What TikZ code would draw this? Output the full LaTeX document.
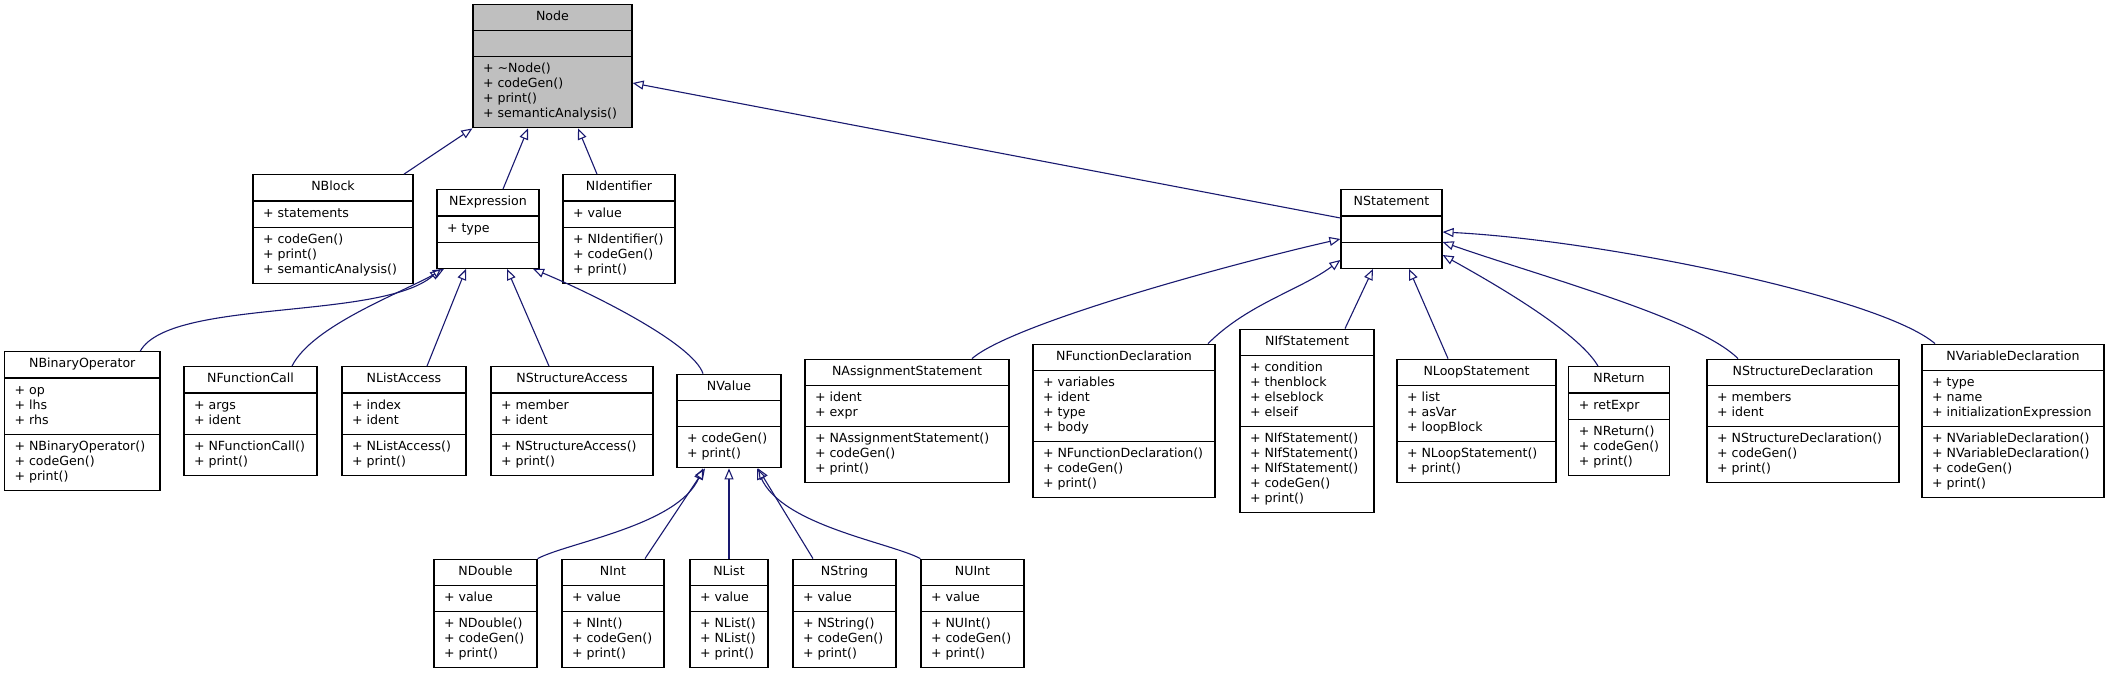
\documentclass[tikz,border=0pt]{standalone}
\usepackage{fontspec}
\setmainfont{DejaVu Sans}
\usetikzlibrary{shapes.multipart,arrows.meta}

\definecolor{edgeblue}{HTML}{191970}
\newcommand{\clsfont}{\fontsize{12.6}{15}\selectfont}
\newcommand{\members}[1]{\begin{tabular}{@{}l@{}}#1\end{tabular}}

\tikzstyle{cls} = [draw, line width=1.2pt, fill=white, rectangle split,
    rectangle split parts=3, rectangle split part align={center,left,left},
    inner xsep=10pt, inner ysep=5pt, font=\clsfont, anchor=center]
\tikzstyle{inherit} = [draw=edgeblue, line width=1.1pt,
    -{Triangle[open, length=11pt, width=9pt]}]

\begin{document}
\begin{tikzpicture}[x=1pt,y=-1pt]
    \fill [white] (0,0) rectangle (2109,672);
    \useasboundingbox (0,0) rectangle (2109,672);

    % base class
    \node (Node) [cls, fill=black!25, minimum width=159pt] at (552.5,66)
        {\strut Node\nodepart{two}\strut\nodepart{three}\members{+ \textasciitilde Node()\\+ codeGen()\\+ print()\\+ semanticAnalysis()}};

    % second row
    \node (NBlock) [cls, minimum width=160pt] at (333,229)
        {\strut NBlock\nodepart{two}\members{+ statements}\nodepart{three}\members{+ codeGen()\\+ print()\\+ semanticAnalysis()}};
    \node (NExpression) [cls, minimum width=102pt] at (488,229)
        {\strut NExpression\nodepart{two}\members{+ type}\nodepart{three}\strut};
    \node (NIdentifier) [cls, minimum width=112pt] at (619,229)
        {\strut NIdentifier\nodepart{two}\members{+ value}\nodepart{three}\members{+ NIdentifier()\\+ codeGen()\\+ print()}};
    \node (NStatement) [cls, minimum width=101pt] at (1391.5,229)
        {\strut NStatement\nodepart{two}\strut\nodepart{three}\strut};

    % third row
    \node (NBinaryOperator) [cls, minimum width=155.5pt] at (82.25,421)
        {\strut NBinaryOperator\nodepart{two}\members{+ op\\+ lhs\\+ rhs}\nodepart{three}\members{+ NBinaryOperator()\\+ codeGen()\\+ print()}};
    \node (NFunctionCall) [cls, minimum width=133pt] at (250.5,421)
        {\strut NFunctionCall\nodepart{two}\members{+ args\\+ ident}\nodepart{three}\members{+ NFunctionCall()\\+ print()}};
    \node (NListAccess) [cls, minimum width=124pt] at (404,421)
        {\strut NListAccess\nodepart{two}\members{+ index\\+ ident}\nodepart{three}\members{+ NListAccess()\\+ print()}};
    \node (NStructureAccess) [cls, minimum width=162pt] at (572,421)
        {\strut NStructureAccess\nodepart{two}\members{+ member\\+ ident}\nodepart{three}\members{+ NStructureAccess()\\+ print()}};
    \node (NValue) [cls, minimum width=104pt] at (729,421)
        {\strut NValue\nodepart{two}\strut\nodepart{three}\members{+ codeGen()\\+ print()}};
    \node (NAssignmentStatement) [cls, minimum width=204pt] at (907,421)
        {\strut NAssignmentStatement\nodepart{two}\members{+ ident\\+ expr}\nodepart{three}\members{+ NAssignmentStatement()\\+ codeGen()\\+ print()}};
    \node (NFunctionDeclaration) [cls, minimum width=182pt] at (1124,421)
        {\strut NFunctionDeclaration\nodepart{two}\members{+ variables\\+ ident\\+ type\\+ body}\nodepart{three}\members{+ NFunctionDeclaration()\\+ codeGen()\\+ print()}};
    \node (NIfStatement) [cls, minimum width=134pt] at (1307,421)
        {\strut NIfStatement\nodepart{two}\members{+ condition\\+ thenblock\\+ elseblock\\+ elseif}\nodepart{three}\members{+ NIfStatement()\\+ NIfStatement()\\+ NIfStatement()\\+ codeGen()\\+ print()}};
    \node (NLoopStatement) [cls, minimum width=159pt] at (1476.5,421)
        {\strut NLoopStatement\nodepart{two}\members{+ list\\+ asVar\\+ loopBlock}\nodepart{three}\members{+ NLoopStatement()\\+ print()}};
    \node (NReturn) [cls, minimum width=80pt] at (1619,421)
        {\strut NReturn\nodepart{two}\members{+ retExpr}\nodepart{three}\members{+ NReturn()\\+ codeGen()\\+ print()}};
    \node (NStructureDeclaration) [cls, minimum width=192pt] at (1803,421)
        {\strut NStructureDeclaration\nodepart{two}\members{+ members\\+ ident}\nodepart{three}\members{+ NStructureDeclaration()\\+ codeGen()\\+ print()}};
    \node (NVariableDeclaration) [cls, minimum width=182pt] at (2013,421)
        {\strut NVariableDeclaration\nodepart{two}\members{+ type\\+ name\\+ initializationExpression}\nodepart{three}\members{+ NVariableDeclaration()\\+ NVariableDeclaration()\\+ codeGen()\\+ print()}};

    % fourth row
    \node (NDouble) [cls, minimum width=103pt] at (485.5,613.5)
        {\strut NDouble\nodepart{two}\members{+ value}\nodepart{three}\members{+ NDouble()\\+ codeGen()\\+ print()}};
    \node (NInt) [cls, minimum width=102pt] at (613,613.5)
        {\strut NInt\nodepart{two}\members{+ value}\nodepart{three}\members{+ NInt()\\+ codeGen()\\+ print()}};
    \node (NList) [cls, minimum width=78pt] at (729,613.5)
        {\strut NList\nodepart{two}\members{+ value}\nodepart{three}\members{+ NList()\\+ NList()\\+ print()}};
    \node (NString) [cls, minimum width=103pt] at (844.5,613.5)
        {\strut NString\nodepart{two}\members{+ value}\nodepart{three}\members{+ NString()\\+ codeGen()\\+ print()}};
    \node (NUInt) [cls, minimum width=103pt] at (972.5,613.5)
        {\strut NUInt\nodepart{two}\members{+ value}\nodepart{three}\members{+ NUInt()\\+ codeGen()\\+ print()}};

    % inheritance to Node
    \draw [inherit] ([xshift=71pt]NBlock.north) -- (Node.south west);
    \draw [inherit] ([xshift=15pt]NExpression.north) -- ([xshift=-24.5pt]Node.south);
    \draw [inherit] ([xshift=-22pt]NIdentifier.north) -- ([xshift=25.5pt]Node.south);
    \draw [inherit] ([yshift=11pt]NStatement.west) -- ([yshift=-17pt]Node.east);

    % inheritance to NExpression
    \draw [inherit] ([xshift=58pt]NBinaryOperator.north) .. controls +(30,-53) and +(-61,52) .. ([xshift=-47pt]NExpression.south);
    \draw [inherit] ([xshift=41.5pt]NFunctionCall.north) .. controls +(20,-40) and +(-45,25) .. ([xshift=-44pt]NExpression.south);
    \draw [inherit] ([xshift=23pt]NListAccess.north) -- ([xshift=-22pt]NExpression.south);
    \draw [inherit] ([xshift=-23pt]NStructureAccess.north) -- ([xshift=19pt]NExpression.south);
    \draw [inherit] ([xshift=-26pt]NValue.north) .. controls +(-10,-30) and +(60,25) .. ([xshift=45pt]NExpression.south);

    % inheritance to NValue
    \draw [inherit] (NDouble.north east) .. controls +(30,-16) and +(-25,57) .. ([xshift=-26pt]NValue.south);
    \draw [inherit] ([xshift=32pt]NInt.north) -- ([xshift=-24pt]NValue.south);
    \draw [inherit] (NList.north) -- (NValue.south);
    \draw [inherit] ([xshift=-31.5pt]NString.north) -- ([xshift=29pt]NValue.south);
    \draw [inherit] (NUInt.north west) .. controls +(-30,-16) and +(25,57) .. ([xshift=28pt]NValue.south);

    % inheritance to NStatement
    \draw [inherit] ([xshift=65pt]NAssignmentStatement.north) .. controls +(40,-35) and +(-110,25) .. ([yshift=-10pt]NStatement.west);
    \draw [inherit] ([xshift=84pt]NFunctionDeclaration.north) .. controls +(40,-40) and +(-40,30) .. ([yshift=-31pt]NStatement.west);
    \draw [inherit] ([xshift=38pt]NIfStatement.north) -- ([xshift=-18.5pt]NStatement.south);
    \draw [inherit] ([xshift=-28.5pt]NLoopStatement.north) -- ([xshift=17.5pt]NStatement.south);
    \draw [inherit] ([xshift=-21pt]NReturn.north) .. controls +(-20,-35) and +(45,25) .. ([yshift=-26pt]NStatement.east);
    \draw [inherit] ([xshift=-65pt]NStructureDeclaration.north) .. controls +(-40,-40) and +(100,35) .. ([yshift=-13pt]NStatement.east);
    \draw [inherit] ([xshift=-78pt]NVariableDeclaration.north) .. controls +(-55,-47) and +(158,8) .. ([yshift=-3pt]NStatement.east);
\end{tikzpicture}
\end{document}
